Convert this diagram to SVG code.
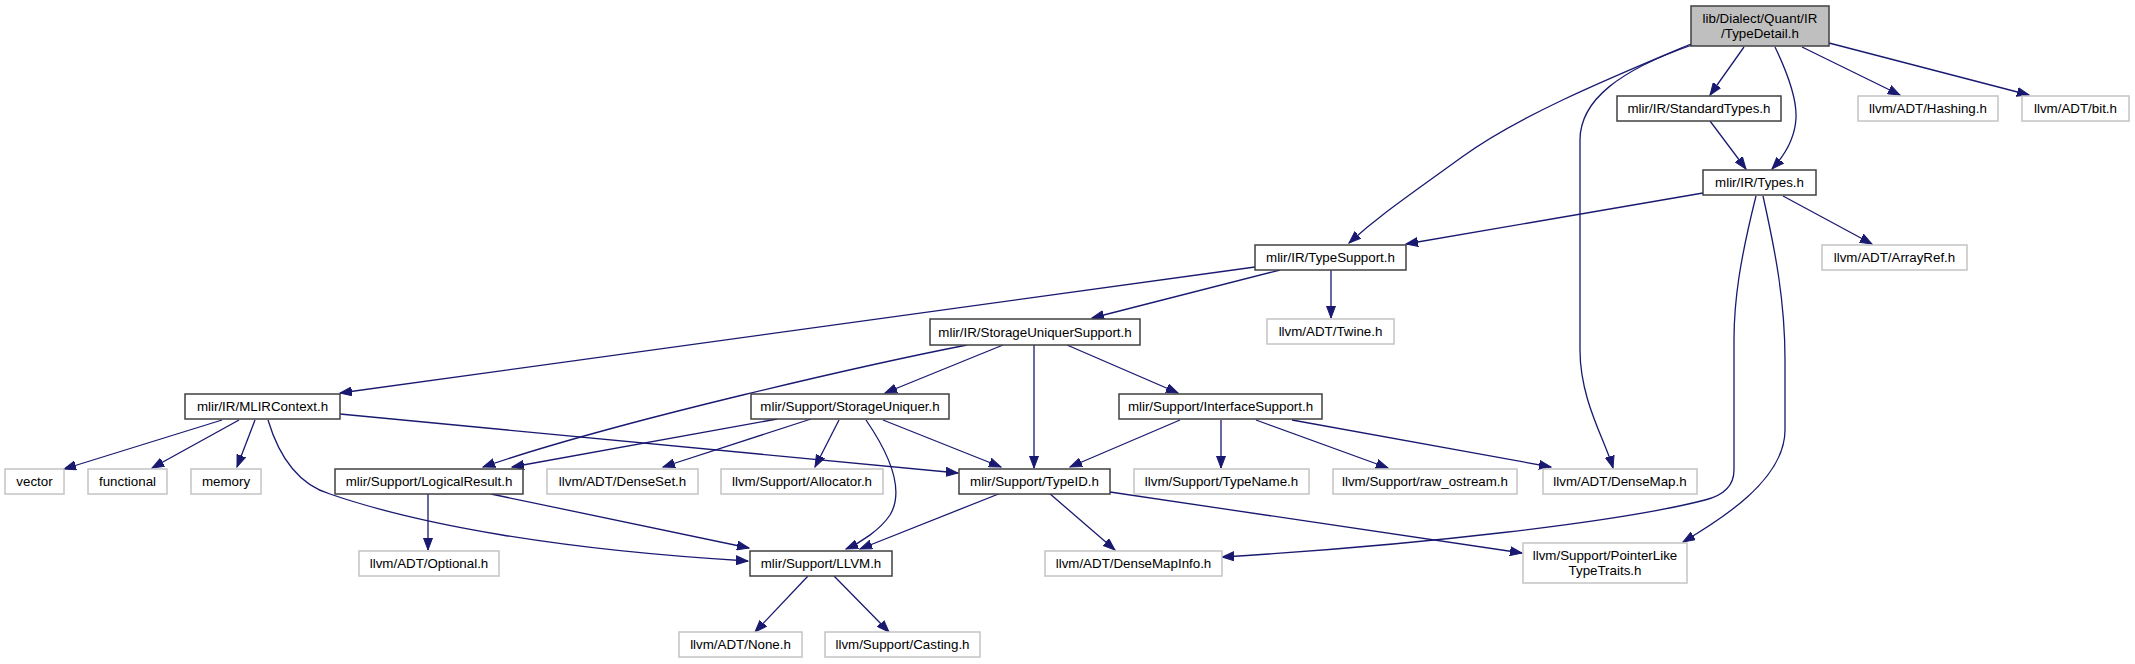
<svg xmlns="http://www.w3.org/2000/svg" width="2135" height="664" viewBox="0 0 2135 664">
<style>
.n rect{fill:#fff;stroke:#404040;stroke-width:1.5}
.g rect{fill:#fff;stroke:#c4c4c4;stroke-width:1.5}
.r rect{fill:#bfbfbf;stroke:#404040;stroke-width:1.5}
text{font-family:"Liberation Sans",Arial,sans-serif;font-size:13.33px;fill:#000;text-anchor:middle}
#edges path{fill:none;stroke:#191970;stroke-width:1.3;marker-end:url(#ah)}
</style>
<defs>
<marker id="ah" markerUnits="userSpaceOnUse" markerWidth="13" markerHeight="10" viewBox="0 0 13 10" refX="12" refY="5" orient="auto">
<path d="M0,0.5 L12,5 L0,9.5 z" fill="#191970" stroke="#191970" stroke-width="1"/>
</marker>
</defs>
<rect width="2135" height="664" fill="#fff"/>
<g id="edges">
<path d="M1691,44 C1610,78 1520,115 1462,157 S1380,215 1349,243"/>
<path d="M1692,45 C1620,70 1580,100 1580,140 L1580,350 C1580,400 1605,440 1613,468"/>
<path d="M1744,47 L1710,95"/>
<path d="M1775,47 C1787,72 1797,97 1796,118 C1795,138 1785,155 1772,169"/>
<path d="M1802,47 L1900,95"/>
<path d="M1829,43 L2029,95"/>
<path d="M1710,121 L1746,169"/>
<path d="M1703,193 L1406,244"/>
<path d="M1783,196 L1872,244"/>
<path d="M1756,196 C1740,260 1734,300 1734,340 L1734,470 C1734,485 1725,495 1705,500 C1620,522 1420,545 1222,557"/>
<path d="M1763,196 C1775,250 1785,300 1785,360 L1785,430 C1785,480 1720,520 1683,542"/>
<path d="M1255,267 L340,393"/>
<path d="M1280,270 L1092,318"/>
<path d="M1331,270 L1331,318"/>
<path d="M967,345 C880,362 620,420 483,467"/>
<path d="M1003,345 L885,393"/>
<path d="M1034,345 L1034,468"/>
<path d="M1067,345 L1178,393"/>
<path d="M222,420 L64,469"/>
<path d="M239,420 L152,468"/>
<path d="M255,420 L237,467"/>
<path d="M268,420 C280,460 300,485 330,494 C420,525 560,550 748,561"/>
<path d="M340,414 L958,473"/>
<path d="M777,419 L512,467"/>
<path d="M811,419 L663,467"/>
<path d="M839,420 L815,467"/>
<path d="M866,420 C890,455 905,490 890,515 C880,530 860,543 846,549"/>
<path d="M883,420 L1001,467"/>
<path d="M1180,420 L1070,467"/>
<path d="M1221,420 L1221,468"/>
<path d="M1256,420 L1388,468"/>
<path d="M1292,420 L1551,467"/>
<path d="M428,494 L428,550"/>
<path d="M491,494 L749,548"/>
<path d="M1001,493 L860,549"/>
<path d="M1049,493 L1115,550"/>
<path d="M1110,492 L1522,553"/>
<path d="M808,576 L755,632"/>
<path d="M834,576 L889,632"/>
</g>
<g id="n_typedetail" class="r"><rect x="1691" y="6" width="138" height="40"/><text x="1760" y="23">lib/Dialect/Quant/IR</text><text x="1760" y="38">/TypeDetail.h</text></g>
<g id="n_standardtypes" class="n"><rect x="1617" y="96" width="164" height="25"/><text x="1699" y="113">mlir/IR/StandardTypes.h</text></g>
<g id="n_hashing" class="g"><rect x="1858" y="96" width="140" height="25"/><text x="1928" y="113">llvm/ADT/Hashing.h</text></g>
<g id="n_bit" class="g"><rect x="2022" y="96" width="107" height="25"/><text x="2075.5" y="113">llvm/ADT/bit.h</text></g>
<g id="n_types" class="n"><rect x="1703" y="170" width="113" height="25"/><text x="1759.5" y="187">mlir/IR/Types.h</text></g>
<g id="n_typesupport" class="n"><rect x="1255" y="245" width="151" height="25"/><text x="1330.5" y="262">mlir/IR/TypeSupport.h</text></g>
<g id="n_arrayref" class="g"><rect x="1822" y="245" width="145" height="25"/><text x="1894.5" y="262">llvm/ADT/ArrayRef.h</text></g>
<g id="n_storageuniquersupport" class="n"><rect x="930" y="319" width="210" height="26"/><text x="1035" y="337">mlir/IR/StorageUniquerSupport.h</text></g>
<g id="n_twine" class="g"><rect x="1267" y="319" width="127" height="25"/><text x="1330.5" y="336">llvm/ADT/Twine.h</text></g>
<g id="n_mlircontext" class="n"><rect x="185" y="394" width="155" height="25"/><text x="262.5" y="411">mlir/IR/MLIRContext.h</text></g>
<g id="n_storageuniquer" class="n"><rect x="751" y="394" width="198" height="25"/><text x="850" y="411">mlir/Support/StorageUniquer.h</text></g>
<g id="n_interfacesupport" class="n"><rect x="1119" y="394" width="203" height="25"/><text x="1220.5" y="411">mlir/Support/InterfaceSupport.h</text></g>
<g id="n_vector" class="g"><rect x="5" y="469" width="59" height="25"/><text x="34.5" y="486">vector</text></g>
<g id="n_functional" class="g"><rect x="88" y="469" width="79" height="25"/><text x="127.5" y="486">functional</text></g>
<g id="n_memory" class="g"><rect x="191" y="469" width="70" height="25"/><text x="226" y="486">memory</text></g>
<g id="n_logicalresult" class="n"><rect x="335" y="469" width="188" height="25"/><text x="429" y="486">mlir/Support/LogicalResult.h</text></g>
<g id="n_denseset" class="g"><rect x="547" y="469" width="151" height="25"/><text x="622.5" y="486">llvm/ADT/DenseSet.h</text></g>
<g id="n_allocator" class="g"><rect x="721" y="469" width="162" height="25"/><text x="802" y="486">llvm/Support/Allocator.h</text></g>
<g id="n_typeid" class="n"><rect x="959" y="469" width="151" height="25"/><text x="1034.5" y="486">mlir/Support/TypeID.h</text></g>
<g id="n_typename" class="g"><rect x="1134" y="469" width="175" height="25"/><text x="1221.5" y="486">llvm/Support/TypeName.h</text></g>
<g id="n_rawostream" class="g"><rect x="1333" y="469" width="184" height="25"/><text x="1425" y="486">llvm/Support/raw_ostream.h</text></g>
<g id="n_densemap" class="g"><rect x="1543" y="469" width="154" height="25"/><text x="1620" y="486">llvm/ADT/DenseMap.h</text></g>
<g id="n_optional" class="g"><rect x="359" y="551" width="140" height="25"/><text x="429" y="568">llvm/ADT/Optional.h</text></g>
<g id="n_llvm" class="n"><rect x="750" y="551" width="142" height="25"/><text x="821" y="568">mlir/Support/LLVM.h</text></g>
<g id="n_densemapinfo" class="g"><rect x="1045" y="551" width="177" height="25"/><text x="1133.5" y="568">llvm/ADT/DenseMapInfo.h</text></g>
<g id="n_pointerlike" class="g"><rect x="1523" y="543" width="164" height="40"/><text x="1605" y="560">llvm/Support/PointerLike</text><text x="1605" y="575">TypeTraits.h</text></g>
<g id="n_none" class="g"><rect x="679" y="632" width="123" height="25"/><text x="740.5" y="649">llvm/ADT/None.h</text></g>
<g id="n_casting" class="g"><rect x="825" y="632" width="155" height="25"/><text x="902.5" y="649">llvm/Support/Casting.h</text></g>
</svg>
